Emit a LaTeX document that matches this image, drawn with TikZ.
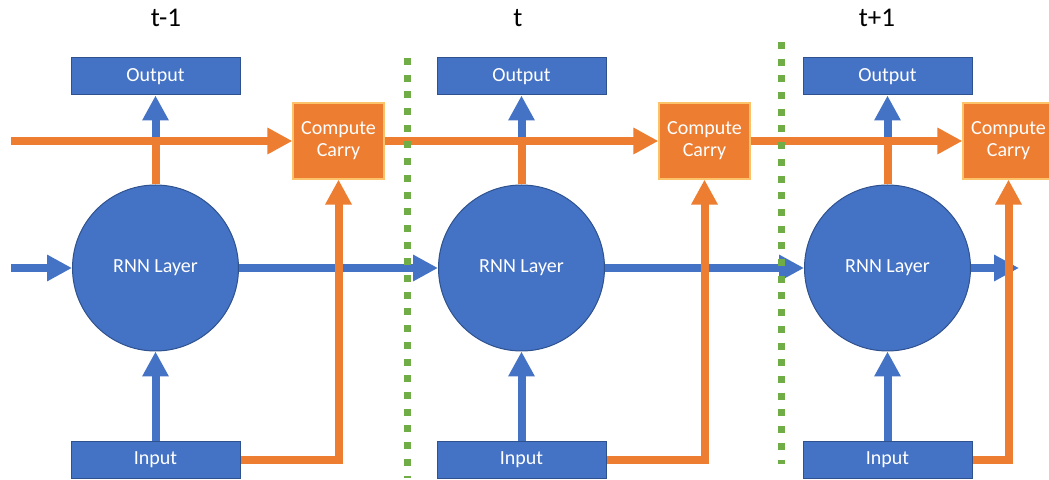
\documentclass[tikz,border=0pt]{standalone}
\usepackage{fontspec}
\setmainfont{Carlito}
\usetikzlibrary{arrows.meta}
\definecolor{rnnblue}{HTML}{4472C4}
\definecolor{rnnedge}{HTML}{2F528F}
\definecolor{carryorange}{HTML}{ED7D31}
\definecolor{carryedge}{HTML}{FCC36A}
\definecolor{stepgreen}{HTML}{70AD47}
\begin{document}
\begin{tikzpicture}[x=0.5pt,y=-0.5pt,
  boxfont/.style={font=\fontsize{10}{11}\selectfont},
  iobox/.style={boxfont, draw=rnnedge, line width=0.5pt, fill=rnnblue, text=white,
    minimum width=84.5pt, minimum height=18.5pt, inner sep=0pt},
  carrybox/.style={boxfont, draw=carryedge, line width=0.6pt, fill=carryorange, text=white,
    minimum width=45.5pt, minimum height=38pt, inner sep=0pt, align=center},
  layer/.style={boxfont, circle, draw=rnnedge, line width=0.5pt, fill=rnnblue, text=white,
    minimum size=83pt, inner sep=0pt},
  flow/.style={line width=4pt, -{Triangle[length=12.5pt,width=12.5pt]}},
  plainflow/.style={line width=4pt},
  divider/.style={stepgreen, line width=3.5pt, dash pattern=on 3.5pt off 4.85pt},
  steplabel/.style={font=\fontsize{13.5}{16}\selectfont, anchor=base}
]
\useasboundingbox (0,0) rectangle (1049,480);
\clip (0,0) rectangle (1049,480);

% time-step headings
\node[steplabel] (lprev) at (166,27) {t-1};
\node[steplabel] (lcur)  at (518,27) {t};
\node[steplabel] (lnext) at (877,27) {t+1};

% blocks of the three unrolled steps
\foreach \i/\x/\cx in {1/155.5/338.5, 2/521.5/704.5, 3/887.5/1008.5} {
  \node[iobox] (out\i) at (\x,76.5) {Output};
  \node[layer] (rnn\i) at (\x,268) {RNN Layer};
  \node[iobox] (in\i)  at (\x,460) {Input};
  \node[carrybox] (cc\i) at (\cx,141) {Compute\\Carry};
}

% free ends of the flows
\coordinate (hin)  at (11,268);
\coordinate (hout) at (1019,268);
\coordinate (cin)  at (11,141);

% hidden state passed between layers
\draw[flow, rnnblue] (hin) -- (rnn1);
\draw[flow, rnnblue] (rnn1) -- (rnn2);
\draw[flow, rnnblue] (rnn2) -- (rnn3);
\draw[flow, rnnblue] (rnn3.east) -- (hout);

% input -> layer -> output
\foreach \i in {1,2,3} {
  \draw[flow, rnnblue] (in\i) -- (rnn\i);
  \draw[flow, rnnblue] (rnn\i) -- (out\i);
  \draw[plainflow, carryorange] (rnn\i.north) -- (rnn\i.north |- cin);
}

% carry track
\draw[flow, carryorange] (cin) -- (cc1);
\draw[flow, carryorange] (cc1) -- (cc2);
\draw[flow, carryorange] (cc2) -- (cc3);
\foreach \i in {1,2,3} {
  \draw[flow, carryorange] (in\i.east) -| (cc\i.south);
}

% step separators
\coordinate (d1a) at (407,58);  \coordinate (d1b) at (407,478);
\coordinate (d2a) at (781,42);  \coordinate (d2b) at (781,464);
\draw[divider] (d1a) -- (d1b);
\draw[divider] (d2a) -- (d2b);
\end{tikzpicture}
\end{document}
